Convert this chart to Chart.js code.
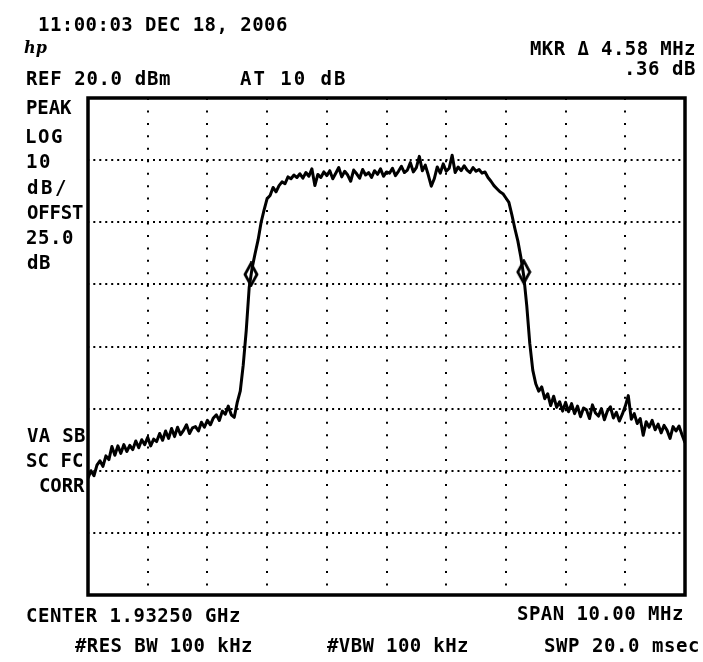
<!DOCTYPE html>
<html><head><meta charset="utf-8">
<script src="https://cdn.jsdelivr.net/npm/chart.js@4.4.1/dist/chart.umd.min.js"></script>
<style>html,body{margin:0;padding:0;background:#fff;}canvas{display:block;}</style>
</head><body>
<canvas id="c" width="703" height="662"></canvas>
<script>
// Frequency axis: offset from centre (MHz), centre 1.93250 GHz, span 10 MHz
const offsetStartMHz = -5;
const offsetStepMHz = 0.05;
// Trace level (dBm) per sweep point
const traceLevels = [
 -41.2,-40.0,-40.8,-39.1,-38.4,-39.3,-37.6,-38.2,-36.1,-37.5,-36.0,
 -37.2,-35.8,-36.9,-35.9,-36.6,-35.2,-36.3,-35.0,-35.8,-34.6,
 -36.0,-34.9,-35.3,-34.0,-35.1,-33.6,-34.8,-33.2,-34.5,-33.0,
 -34.2,-33.5,-32.6,-34.0,-33.1,-32.9,-33.6,-32.2,-33.0,-31.9,
 -32.6,-31.5,-31.0,-31.9,-30.4,-30.9,-29.6,-31.0,-31.4,-29.0,
 -27.2,-23.0,-17.5,-10.5,-7.3,-5.0,-2.8,0.0,2.0,3.8,
 4.3,5.6,4.9,5.9,6.5,6.2,7.3,7.0,7.6,7.2,
 7.8,7.1,8.0,7.4,8.6,5.9,7.7,7.2,8.1,7.5,
 8.3,7.0,7.9,8.8,7.3,8.2,7.6,6.6,8.4,7.8,
 7.1,8.5,7.6,8.0,7.2,8.3,7.7,8.6,7.4,8.1,
 7.9,8.7,7.5,8.2,9.0,8.0,8.4,9.6,8.1,8.8,
 10.6,8.3,9.2,7.6,5.8,7.0,8.9,7.9,9.4,8.2,
 8.7,10.8,8.0,8.9,8.3,9.1,8.4,8.0,8.8,8.2,
 8.5,7.9,8.1,7.2,6.6,5.9,5.4,4.9,4.6,3.9,
 3.2,1.2,-1.0,-3.0,-5.6,-8.7,-13.5,-19.5,-23.8,-26.0,
 -27.2,-26.5,-28.4,-27.6,-29.5,-28.0,-29.8,-28.9,-30.4,-29.0,
 -30.5,-29.2,-30.8,-29.6,-31.3,-29.9,-30.2,-31.6,-29.4,-30.7,
 -31.2,-30.0,-31.8,-30.4,-29.7,-31.5,-30.6,-32.0,-30.9,-29.6,
 -27.9,-31.7,-30.8,-32.4,-31.6,-34.3,-32.1,-33.0,-31.9,-33.4,
 -32.5,-33.9,-32.7,-33.5,-34.8,-32.9,-33.6,-32.8,-34.2,-35.5
];
// Delta markers (offset MHz, dBm)
const markerOffsets = [-2.27, 2.30];
const markerLevels = [-8.4, -8.0];
// Screen limits
const refLevel = 20;
const dbPerDiv = 10;
const divsY = 8;

// Annotation texts
const headerTexts = ["11:00:03 DEC 18, 2006", "REF 20.0 dBm", "AT 10 dB", "MKR \u0394 4.58 MHz", ".36 dB"];
const leftTexts = ["PEAK", "LOG", "10", "dB/", "OFFST", "25.0", "dB", "VA SB", "SC FC", "CORR"];
const footerTexts = ["CENTER 1.93250 GHz", "SPAN 10.00 MHz", "#RES BW 100 kHz", "#VBW 100 kHz", "SWP 20.0 msec"];

const tracePoints = traceLevels.map((v, i) => ({x: offsetStartMHz + i * offsetStepMHz, y: v}));
const markerPoints = markerOffsets.map((x, i) => ({x: x, y: markerLevels[i]}));

// diamond marker image
const dia = document.createElement('canvas');
dia.width = 16; dia.height = 26;
(function(){
  const g = dia.getContext('2d');
  g.strokeStyle = '#000'; g.lineWidth = 2.8;
  g.beginPath(); g.moveTo(8,2); g.lineTo(14,13); g.lineTo(8,24); g.lineTo(2,13); g.closePath(); g.stroke();
})();

// layout of text (left, right, centreY)
const textLayout = [
  [headerTexts[0], 39, 287, 23.5],
  [headerTexts[1], 27, 170, 78],
  [headerTexts[2], 240, 345, 78],
  [headerTexts[3], 530, 695, 48],
  [headerTexts[4], 628, 695, 68],
  [leftTexts[0], 27, 72, 107],
  [leftTexts[1], 27, 62, 136],
  [leftTexts[2], 27, 50, 161],
  [leftTexts[3], 27, 66, 187],
  [leftTexts[4], 27, 83, 212],
  [leftTexts[5], 27, 73, 237],
  [leftTexts[6], 27, 50, 262],
  [leftTexts[7], 27, 85, 435],
  [leftTexts[8], 27, 83, 460],
  [leftTexts[9], 40, 85, 485],
  [footerTexts[0], 27, 240, 615],
  [footerTexts[1], 518, 683, 613],
  [footerTexts[2], 75, 252, 645],
  [footerTexts[3], 327, 468, 645],
  [footerTexts[4], 545, 698, 645]
];

const framePlugin = {
  id: 'frame',
  beforeDatasetsDraw(chart) {
    const {ctx, chartArea: a} = chart;
    ctx.save();
    ctx.strokeStyle = '#000';
    ctx.lineWidth = 3.5;
    ctx.strokeRect(a.left, a.top, a.right - a.left, a.bottom - a.top);
    ctx.restore();
  }
};

const textPlugin = {
  id: 'texts',
  afterDraw(chart) {
    const ctx = chart.ctx;
    ctx.save();
    ctx.fillStyle = '#000';
    ctx.font = 'bold 19px "DejaVu Sans Mono"';
    ctx.textBaseline = 'alphabetic';
    ctx.textAlign = 'left';
    const hasLS = ('letterSpacing' in ctx);
    textLayout.forEach(([str, l, r, cy]) => {
      if (hasLS) ctx.letterSpacing = '0px';
      const m = ctx.measureText(str);
      const vis = m.actualBoundingBoxLeft + m.actualBoundingBoxRight;
      const n = [...str].length;
      const s = n > 1 ? (r - l - vis) / (n - 1) : 0;
      if (hasLS) ctx.letterSpacing = s.toFixed(2) + 'px';
      ctx.fillText(str, l + m.actualBoundingBoxLeft, cy + 7);
    });
    if (hasLS) ctx.letterSpacing = '0px';
    ctx.font = 'italic bold 16px "DejaVu Serif"';
    ctx.fillText('hp', 24, 53);
    ctx.restore();
  }
};

new Chart(document.getElementById('c'), {
  type: 'line',
  data: {
    datasets: [
      {data: tracePoints, borderColor: '#000', borderWidth: 3, pointRadius: 0, tension: 0,
       borderJoinStyle: 'round', fill: false, order: 2},
      {data: markerPoints, showLine: false, pointStyle: dia, pointRadius: 10, order: 1}
    ]
  },
  options: {
    responsive: false, animation: false, devicePixelRatio: 1,
    layout: {padding: {left: 88, top: 98, right: 18, bottom: 67}},
    plugins: {legend: {display: false}, tooltip: {enabled: false}},
    scales: {
      x: {type: 'linear', min: offsetStartMHz, max: -offsetStartMHz,
          ticks: {display: false, stepSize: 1},
          grid: {color: '#000', lineWidth: 2, drawTicks: false},
          border: {display: false, dash: [2, 10.45]},
          afterFit(s) { s.height = 0; }},
      y: {min: refLevel - dbPerDiv * divsY, max: refLevel,
          ticks: {display: false, stepSize: dbPerDiv},
          grid: {color: '#000', lineWidth: 2, drawTicks: false},
          border: {display: false, dash: [2, 3.97], dashOffset: -5.3},
          afterFit(s) { s.width = 0; }}
    }
  },
  plugins: [framePlugin, textPlugin]
});
</script>
</body></html>
